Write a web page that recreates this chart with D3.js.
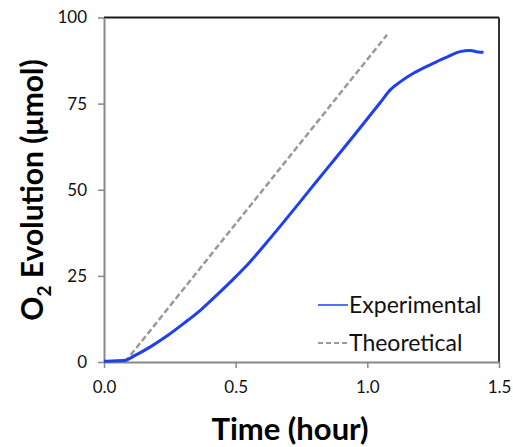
<!DOCTYPE html>
<html>
<head>
<meta charset="utf-8">
<script src="https://cdn.jsdelivr.net/npm/d3@7"></script>
<style>
  body { margin: 0; background: #fff; }
  svg { font-family: Lato, "Open Sans", sans-serif; }
</style>
</head>
<body>
<svg id="grafico"></svg>
<script>
// dados
const tempoExp = [0, 0.03, 0.075, 0.12, 0.176, 0.24, 0.303, 0.37, 0.429, 0.49, 0.556, 0.62, 0.682, 0.75, 0.81, 0.88, 0.95, 1.0, 1.05, 1.087, 1.13, 1.175, 1.22, 1.264, 1.31, 1.352, 1.39, 1.42, 1.441];
const o2Exp = [0.2, 0.3, 0.4, 2.0, 4.4, 7.6, 11.2, 15.3, 19.5, 24.0, 29.2, 34.9, 40.6, 47.0, 52.7, 59.2, 65.8, 70.6, 75.4, 79.0, 81.6, 83.8, 85.6, 87.2, 88.8, 90.1, 90.4, 90.0, 89.9];
const tempoTeo = [0.08, 1.075];
const o2Teo = [0, 95];
const ticksX = [0.0, 0.5, 1.0, 1.5];
const ticksY = [0, 25, 50, 75, 100];
const series = ['Experimental', 'Theoretical'];

const largura = 513, altura = 447;
const margem = { top: 17.5, right: 14, bottom: 85, left: 104 };

const svg = d3.select('#grafico')
  .attr('width', largura)
  .attr('height', altura);

const fnX = d3.scaleLinear().domain([0, 1.5]).range([margem.left, largura - margem.right]);
const fnY = d3.scaleLinear().domain([0, 100]).range([altura - margem.bottom, margem.top]);

// moldura: topo e direita escuros
svg.append('line')
  .attr('x1', fnX(0)).attr('x2', fnX(1.5))
  .attr('y1', fnY(100)).attr('y2', fnY(100))
  .attr('stroke', '#1a1a1a').attr('stroke-width', 2);
svg.append('line')
  .attr('x1', fnX(1.5)).attr('x2', fnX(1.5))
  .attr('y1', fnY(100)).attr('y2', fnY(0))
  .attr('stroke', '#333').attr('stroke-width', 2);

// eixo x
const eixoX = svg.append('g')
  .attr('transform', `translate(0,${fnY(0)})`)
  .call(d3.axisBottom(fnX).tickValues(ticksX).tickFormat(d3.format('.1f')).tickSize(6).tickSizeOuter(0));
eixoX.select('.domain').attr('stroke', '#888').attr('stroke-width', 2);
eixoX.selectAll('.tick line').attr('stroke', '#888').attr('stroke-width', 1.5);
eixoX.selectAll('.tick text')
  .attr('font-size', 17).attr('fill', '#111').attr('y', 14).attr('dy', '1em')
  .style('font-family', 'Lato, "Open Sans", sans-serif');

// eixo y
const eixoY = svg.append('g')
  .attr('transform', `translate(${fnX(0)},0)`)
  .call(d3.axisLeft(fnY).tickValues(ticksY).tickSize(6).tickSizeOuter(0));
eixoY.select('.domain').attr('stroke', '#888').attr('stroke-width', 2);
eixoY.selectAll('.tick line').attr('stroke', '#888').attr('stroke-width', 1.5);
eixoY.selectAll('.tick text')
  .attr('font-size', 17).attr('fill', '#111').attr('x', -17)
  .style('font-family', 'Lato, "Open Sans", sans-serif');

// linhas
const linha = d3.line().x(d => fnX(d[0])).y(d => fnY(d[1])).curve(d3.curveMonotoneX);

svg.append('path')
  .datum(tempoTeo.map((t, i) => [t, o2Teo[i]]))
  .attr('d', linha)
  .attr('fill', 'none')
  .attr('stroke', '#999')
  .attr('stroke-width', 2.5)
  .attr('stroke-dasharray', '6,3');

svg.append('path')
  .datum(tempoExp.map((t, i) => [t, o2Exp[i]]))
  .attr('d', linha)
  .attr('fill', 'none')
  .attr('stroke', '#1f3ff0')
  .attr('stroke-width', 3);

// legenda
const legenda = svg.append('g').attr('transform', 'translate(318,305)');
series.forEach((s, i) => {
  const g = legenda.append('g').attr('transform', `translate(0,${i * 38})`);
  g.append('line')
    .attr('x1', 0).attr('x2', 30)
    .attr('stroke', i === 0 ? '#1f3ff0' : '#999')
    .attr('stroke-width', i === 0 ? 1.5 : 2)
    .attr('stroke-dasharray', i === 0 ? null : '5,3');
  g.append('text')
    .attr('x', 31).attr('y', 8)
    .attr('font-size', 23)
    .attr('fill', '#111')
    .text(s);
});

// títulos
svg.append('text')
  .attr('x', 290).attr('y', 440)
  .attr('text-anchor', 'middle')
  .attr('font-size', 31).attr('font-weight', 'bold')
  .text('Time (hour)');

const tituloY = svg.append('text')
  .attr('transform', 'translate(43,190) rotate(-90)')
  .attr('text-anchor', 'middle')
  .attr('font-size', 30).attr('font-weight', 'bold');
tituloY.append('tspan').text('O');
tituloY.append('tspan').attr('font-size', 19).attr('dy', 8).text('2');
tituloY.append('tspan').attr('dy', -8).text(' Evolution (μmol)');
</script>
</body>
</html>
